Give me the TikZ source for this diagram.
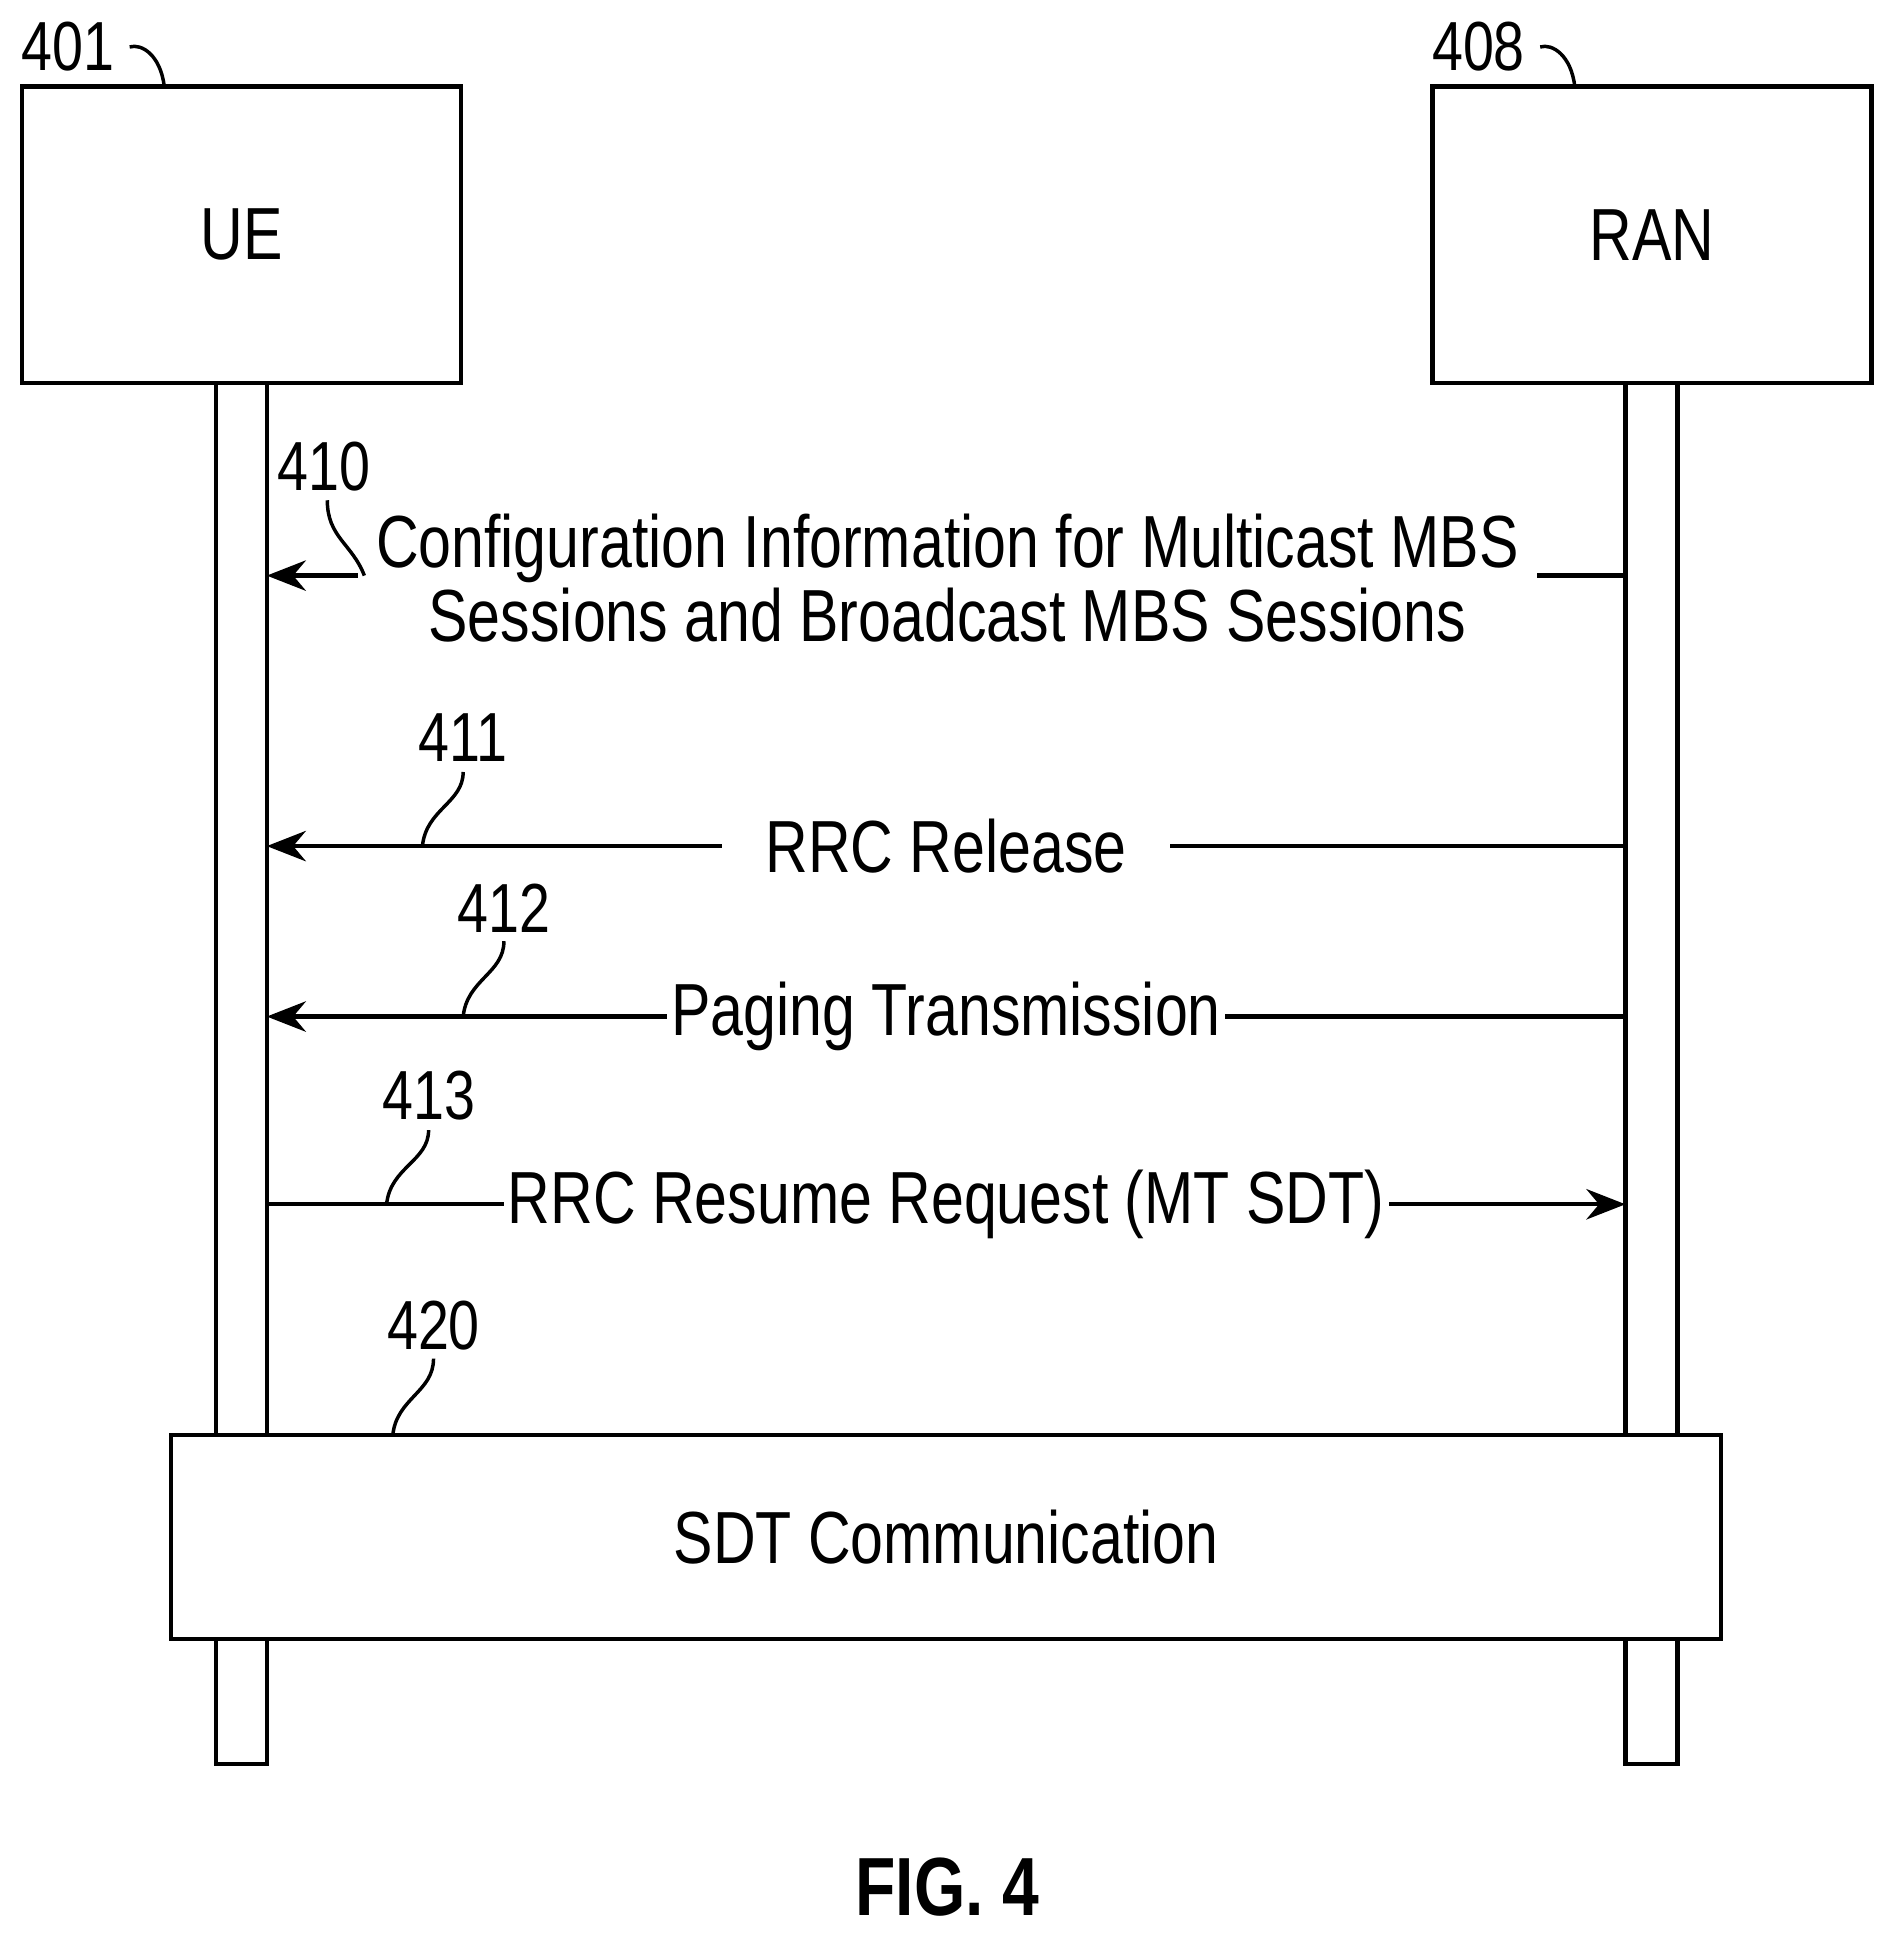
\documentclass[tikz,border=0pt]{standalone}
\usepackage{fontspec}
\setmainfont[FakeStretch=0.8]{Liberation Sans}
\usetikzlibrary{arrows.meta}
\tikzset{
  ent/.style={draw, line width=1pt, minimum width=3.55cm, minimum height=2.4cm, font=\fontsize{17}{20}\selectfont},
  bar/.style={draw, line width=1pt, fill=white},
  msg/.style={line width=1pt, -{Stealth[length=9pt,width=7pt]}},
  lbl/.style={fill=white, inner sep=3pt, font=\fontsize{17}{20}\selectfont, align=center},
  refno/.style={font=\fontsize{16}{19}\selectfont},
  lead/.style={line width=0.8pt}
}
\begin{document}
\begin{tikzpicture}[x=0.01cm, y=-0.01cm]
  \useasboundingbox (0,0) rectangle (1530,1565);
  % entities
  \node[ent] (ue) at (195.5,190) {UE};
  \node[ent] (ran) at (1337.5,190) {RAN};
  \node[refno] (n401) at (55,38) {401};
  \node[refno] (n408) at (1197,38) {408};
  \draw[lead] (n401.east) .. controls (115,35) and (130,45) .. (133,70);
  \draw[lead] (n408.east) .. controls (1257,35) and (1272,45) .. (1275,70);
  % lifelines
  \draw[bar] (175,310) rectangle (216,1428);
  \draw[bar] (1316,310) rectangle (1358,1428);
  % messages
  \coordinate (ue1) at (216,466); \coordinate (ran1) at (1316,466);
  \coordinate (ue2) at (216,685); \coordinate (ran2) at (1316,685);
  \coordinate (ue3) at (216,823); \coordinate (ran3) at (1316,823);
  \coordinate (ue4) at (216,975); \coordinate (ran4) at (1316,975);
  \node[font=\fontsize{17}{20}\selectfont, align=center, inner sep=4pt] (m1) at (767,468) {Configuration Information for Multicast MBS\\[-3pt]Sessions and Broadcast MBS Sessions};
  \draw[line width=1pt] (ran1) -- (ran1 -| m1.east);
  \draw[msg] (ue1 -| m1.west) -- (ue1);
  \draw[msg] (ran2) -- (ue2) node[lbl, pos=0.5, inner sep=10pt] (m2) {RRC Release};
  \draw[msg] (ran3) -- (ue3) node[lbl, pos=0.5, inner sep=1pt] (m3) {Paging Transmission};
  \draw[msg] (ue4) -- (ran4) node[lbl, pos=0.5, inner sep=1pt] (m4) {RRC Resume Request (MT SDT)};
  % reference numbers
  \node[refno] (n410) at (262,378) {410};
  \node[refno] (n411) at (375,597) {411};
  \node[refno] (n412) at (408,735) {412};
  \node[refno] (n413) at (347,887) {413};
  \node[refno] (n420) at (351,1073) {420};
  \draw[lead] (295,466) .. controls (285,440) and (265,435) .. (265,405);
  \draw[lead] (342,685) .. controls (345,655) and (375,650) .. (375,625);
  \draw[lead] (375,823) .. controls (378,793) and (408,788) .. (408,762);
  \draw[lead] (313,975) .. controls (316,945) and (347,940) .. (347,915);
  \draw[lead] (318,1162) .. controls (321,1132) and (351,1127) .. (351,1100);
  % SDT
  \node[draw, line width=1pt, fill=white, minimum width=12.54cm, minimum height=1.65cm, font=\fontsize{17}{20}\selectfont] (sdt) at (766,1244.5) {SDT Communication};
  \node[font=\bfseries\fontsize{19}{23}\selectfont] (fig) at (767,1528) {FIG. 4};
\end{tikzpicture}
\end{document}
